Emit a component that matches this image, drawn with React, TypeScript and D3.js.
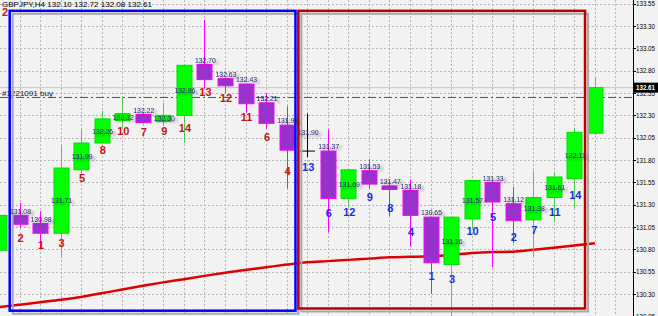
import React from 'react';
import * as d3 from 'd3';

const W = 658;
const H = 316;

// ---- data ----
const barIds = ['b0','b1','b2','b3','b4','b5','b6','b7','b8','b9','b10','b11','b12','b13','b14','b15','b16','b17','b18','b19','b20','b21','b22','b23','b24','b25','b26','b27','b28','b29'];
const opens  = [130.79,131.18,131.09,130.98,131.69,131.99,132.24,132.31,132.23,132.30,132.87,132.71,132.65,132.44,132.19,131.90,131.90,131.37,131.68,131.51,131.46,131.16,130.63,131.14,131.55,131.31,131.13,131.38,131.59,132.10];
const highs  = [131.20,131.32,131.23,131.96,132.14,132.35,132.50,132.33,132.44,132.87,133.37,132.72,132.65,132.55,132.40,132.32,132.14,131.69,131.81,131.55,131.58,131.16,131.16,131.57,131.55,131.50,131.68,131.67,132.16,132.72];
const lows   = [130.76,131.04,130.81,130.71,131.65,131.99,132.16,132.21,132.19,131.99,132.60,132.55,132.33,132.15,131.48,131.83,130.99,131.27,131.48,131.17,130.83,130.30,130.02,131.03,130.60,130.87,130.72,131.10,131.26,132.08];
const closes = [131.18,131.08,130.98,131.71,131.99,132.26,132.32,132.22,132.30,132.86,132.70,132.63,132.43,132.21,131.91,131.90,131.37,131.69,131.53,131.47,131.18,130.65,131.16,131.57,131.33,131.12,131.38,131.61,132.11,132.61];
const maValues = [130.152,130.180,130.208,130.235,130.267,130.309,130.350,130.392,130.430,130.466,130.503,130.538,130.569,130.599,130.629,130.655,130.668,130.682,130.696,130.710,130.716,130.722,130.737,130.759,130.770,130.773,130.795,130.818,130.842,130.868];
const rankLabels = [null,2,1,3,5,8,10,7,9,14,13,12,11,6,4,13,6,12,9,8,4,1,3,10,5,2,7,11,14,null];
const rankPrices = [null,130.924,130.849,130.868,131.595,131.912,132.125,132.117,132.125,132.162,132.565,132.491,132.278,132.061,131.677,131.718,131.210,131.221,131.389,131.259,130.991,130.501,130.468,131.009,131.165,130.941,131.016,131.215,131.408,null];
const zoneNames = ['left', 'right'];
const zoneFrom = [0.523, 14.57];
const zoneTo = [14.43, 28.52];
const zoneTop = [133.47, 133.47];
const zoneBottom = [130.113, 130.138];
const tickValues = [130.05,130.30,130.55,130.80,131.05,131.30,131.55,131.80,132.05,132.30,132.55,132.80,133.05,133.30,133.55];
const symbolText = 'GBPJPY,H4';
const ohlcHeader = [132.10, 132.72, 132.08, 132.61];
const bidPrice = 132.61;
const buyPrice = 132.50;
const buyLabel = '#1221091 buy';

// ---- styles ----
const BG = '#f2f2f2';
const GRID = '#b4b4b4';
const BULL = '#00ff00';
const BULL_EDGE = '#00dd00';
const BULL_WICK = '#4fcc4f';
const BEAR = '#9932cc';
const BEAR_EDGE = '#ff00ff';
const ZONE_COLORS = ['#0000ff', '#c00000'];
const RANK_COLORS = ['#c81414', '#1530e0'];
const FONT = '"Liberation Sans", Arial, sans-serif';

export default function App() {
  const plotRight = 633;
  const x = d3.scaleLinear().domain([0, 29]).range([-1.05, 594.9]);
  const y = d3.scaleLinear().domain([130.0, 133.6]).range([320.8, -0.8]);
  const bodyW = 15;

  const maLine = d3.line<number>()
    .x((_, i) => x(i))
    .y((d) => y(d))
    .curve(d3.curveMonotoneX);

  const gridXs = d3.range(0, 32).map((i) => x(i)).filter((v) => v > 0 && v < plotRight);

  const candles = barIds.map((id, i) => {
    const o = opens[i], c = closes[i], h = highs[i], l = lows[i];
    const bull = c > o;
    const doji = c === o;
    return { id, i, o, c, h, l, bull, doji };
  });

  return (
    <svg width={W} height={H} style={{ position: 'absolute', left: 0, top: 0, fontFamily: FONT }}>
      <defs>
        <filter id="tshadow" x="-20%" y="-50%" width="160%" height="220%">
          <feGaussianBlur in="SourceAlpha" stdDeviation="1" result="b" />
          <feOffset in="b" dx="2.5" dy="1.5" result="o" />
          <feComponentTransfer in="o" result="s">
            <feFuncA type="linear" slope="0.4" />
          </feComponentTransfer>
          <feMerge>
            <feMergeNode in="s" />
            <feMergeNode in="SourceGraphic" />
          </feMerge>
        </filter>
        <clipPath id="plot">
          <rect x={0} y={0} width={plotRight} height={H} />
        </clipPath>
      </defs>
      <rect x={0} y={0} width={W} height={H} fill={BG} />

      <g clipPath="url(#plot)">
        {/* grid */}
        {tickValues.map((t) => (
          <line key={'h' + t} x1={0} x2={plotRight} y1={Math.round(y(t)) + 0.5} y2={Math.round(y(t)) + 0.5}
            stroke={GRID} strokeDasharray="2,2" />
        ))}
        {gridXs.map((gx, k) => (
          <line key={'v' + k} x1={Math.round(gx) + 0.5} x2={Math.round(gx) + 0.5} y1={0} y2={H}
            stroke={GRID} strokeDasharray="2,2" />
        ))}

        {/* bid line */}
        <line x1={0} x2={plotRight} y1={y(bidPrice)} y2={y(bidPrice)} stroke="#c4c4c4" strokeWidth={1} />
        {/* buy order line */}
        <line x1={0} x2={plotRight} y1={y(buyPrice)} y2={y(buyPrice)} stroke="#108010" strokeWidth={1}
          strokeDasharray="8,3,2,3" />
        <text x={2} y={y(buyPrice) - 4} fontSize={7.5} fill="#202020" dy="0.35em" textLength={51}
          lengthAdjust="spacingAndGlyphs">{buyLabel}</text>

        {/* moving average */}
        <path d={maLine(maValues) || ''} fill="none" stroke="#e00000" strokeWidth={2.5} />

        {/* candles */}
        {candles.map((d) => {
          const cx = Math.round(x(d.i)) + 0.5;
          if (d.doji) {
            return (
              <g key={d.id}>
                <line x1={cx} x2={cx} y1={y(d.h)} y2={y(d.l)} stroke="#000" strokeWidth={1} />
                <line x1={cx - bodyW / 2} x2={cx + bodyW / 2} y1={y(d.o)} y2={y(d.o)} stroke="#000" strokeWidth={1} />
              </g>
            );
          }
          const top = y(Math.max(d.o, d.c));
          const bot = y(Math.min(d.o, d.c));
          return (
            <g key={d.id}>
              <line x1={cx} x2={cx} y1={y(d.h)} y2={y(d.l)} stroke={d.bull ? BULL_WICK : BEAR_EDGE} strokeWidth={1} />
              <rect x={cx - bodyW / 2} y={top} width={bodyW} height={Math.max(1, bot - top)}
                fill={d.bull ? BULL : BEAR} stroke={d.bull ? BULL_EDGE : BEAR_EDGE} strokeWidth={1} />
            </g>
          );
        })}

        {/* zones (shadow then border) */}
        {zoneNames.map((z, k) => {
          const x0 = x(zoneFrom[k]), x1 = x(zoneTo[k]);
          const y0 = y(zoneTop[k]), y1 = y(zoneBottom[k]);
          return (
            <g key={z}>
              <rect x={x0 + 3} y={y0 + 3} width={x1 - x0} height={y1 - y0} fill="none" stroke="#a8a8a8" strokeWidth={2} />
              <rect x={x0} y={y0} width={x1 - x0} height={y1 - y0} fill="none" stroke={ZONE_COLORS[k]} strokeWidth={2.5} />
            </g>
          );
        })}

        {/* close price labels */}
        {candles.filter((d) => rankLabels[d.i] !== null).map((d) => {
          let ly: number;
          if (d.doji) ly = (y(d.h) + y(d.o)) / 2;
          else if (d.bull) ly = (y(d.o) + y(d.c)) / 2;
          else ly = y(d.o) - 4.5;
          return (
            <text key={'p' + d.id} x={x(d.i) + 1} y={ly} dy="0.35em" textAnchor="middle" fontSize={8}
              fill="#26266e" textLength={21} lengthAdjust="spacingAndGlyphs" filter="url(#tshadow)">
              {d.c.toFixed(2)}
            </text>
          );
        })}

        {/* rank labels */}
        {candles.filter((d) => rankLabels[d.i] !== null).map((d) => (
          <text key={'r' + d.id} x={x(d.i) + 1} y={y(rankPrices[d.i] as number)} dy="0.36em" textAnchor="middle"
            fontSize={11} fontWeight="bold" fill={RANK_COLORS[d.i <= 14 ? 0 : 1]}>
            {rankLabels[d.i]}
          </text>
        ))}
        <text x={x(0.3)} y={y(133.46)} dy="0.36em" textAnchor="middle" fontSize={11} fontWeight="bold"
          fill={RANK_COLORS[0]}>2</text>
      </g>

      {/* header */}
      <text x={2} y={4.5} dy="0.35em" fontSize={8} fill="#000" textLength={150} lengthAdjust="spacingAndGlyphs">
        {symbolText + ' ' + ohlcHeader.map((v) => v.toFixed(2)).join(' ')}
      </text>

      {/* price axis */}
      <line x1={plotRight + 0.5} x2={plotRight + 0.5} y1={0} y2={H} stroke="#000" />
      {tickValues.map((t) => (
        <g key={'t' + t}>
          <line x1={plotRight} x2={plotRight + 3} y1={Math.round(y(t)) + 0.5} y2={Math.round(y(t)) + 0.5} stroke="#000" />
          <text x={636} y={y(t)} dy="0.35em" fontSize={7.5} fill="#000" textLength={19} lengthAdjust="spacingAndGlyphs">
            {t.toFixed(2)}
          </text>
        </g>
      ))}
      <rect x={634} y={y(bidPrice) - 5} width={24} height={10} fill="#000" />
      <text x={636} y={y(bidPrice)} dy="0.35em" fontSize={7.5} fill="#fff" fontWeight="bold" textLength={19}
        lengthAdjust="spacingAndGlyphs">{bidPrice.toFixed(2)}</text>
    </svg>
  );
}
